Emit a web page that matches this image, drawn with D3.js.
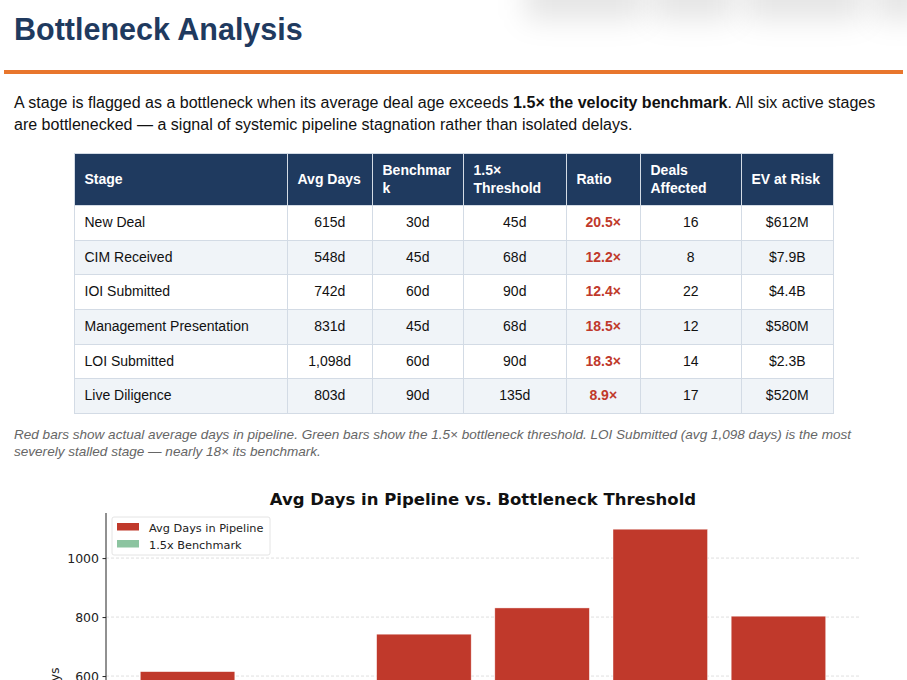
<!DOCTYPE html>
<html>
<head>
<meta charset="utf-8">
<script src="https://cdn.jsdelivr.net/npm/d3@7"></script>
<style>
  html, body { margin: 0; padding: 0; background: #fff; }
  body { width: 907px; height: 680px; overflow: hidden; position: relative;
         font-family: "Liberation Sans", Arial, Helvetica, sans-serif; color: #111; }
  .blob { position: absolute; top: -28px; height: 48px; background: rgba(0,0,0,0.10);
          filter: blur(14px); border-radius: 6px; }
  h1 { position: absolute; left: 14px; top: 11px; margin: 0; font-size: 30.5px; font-weight: bold;
       color: #1f3a5f; letter-spacing: 0; line-height: 36px; }
  .rule { position: absolute; left: 4px; width: 899px; top: 70px; height: 4px; background: #e8762d; }
  p.lead { position: absolute; left: 14px; top: 91px; margin: 0; width: 885px; font-size: 16.05px;
           line-height: 22px; color: #111; }
  table { position: absolute; left: 74px; top: 153px; border-collapse: collapse; table-layout: fixed;
          width: 759px; font-size: 14px; }
  th, td { border: 1px solid #d3dbe5; padding: 8px 10px 8px 9.5px; line-height: 17.6px; overflow-wrap: anywhere; }
  th { background: #1f3a5f; color: #fff; font-weight: bold; text-align: left; vertical-align: middle; }
  td { text-align: center; color: #111; }
  td.stage { text-align: left; }
  tr.alt td { background: #f0f4f8; }
  td.ratio { color: #c0392b; font-weight: bold; }
  p.caption { position: absolute; left: 14px; top: 426px; margin: 0; width: 880px; font-size: 13.55px;
              line-height: 17px; font-style: italic; color: #666; }
  svg { position: absolute; left: 0; top: 470px; }
</style>
</head>
<body>
<div class="blob" style="left:525px;width:118px"></div>
<div class="blob" style="left:652px;width:82px"></div>
<div class="blob" style="left:745px;width:118px"></div>
<div class="blob" style="left:874px;width:50px"></div>
<h1>Bottleneck Analysis</h1>
<div class="rule"></div>
<p class="lead">A stage is flagged as a bottleneck when its average deal age exceeds <b>1.5× the velocity benchmark</b>. All six active stages are bottlenecked — a signal of systemic pipeline stagnation rather than isolated delays.</p>
<div id="tbl"></div>
<p class="caption">Red bars show actual average days in pipeline. Green bars show the 1.5× bottleneck threshold. LOI Submitted (avg 1,098 days) is the most severely stalled stage — nearly 18× its benchmark.</p>
<div id="chart"></div>
<script>
// ---- data ----
const headers = ["Stage", "Avg Days", "Benchmark", "1.5× Threshold", "Ratio", "Deals Affected", "EV at Risk"];
const stages = ["New Deal", "CIM Received", "IOI Submitted", "Management Presentation", "LOI Submitted", "Live Diligence"];
const avgDays = [615, 548, 742, 831, 1098, 803];
const benchmark = [30, 45, 60, 45, 60, 90];
const threshold = [45, 68, 90, 68, 90, 135];
const ratio = ["20.5×", "12.2×", "12.4×", "18.5×", "18.3×", "8.9×"];
const dealsAffected = [16, 8, 22, 12, 14, 17];
const evAtRisk = ["$612M", "$7.9B", "$4.4B", "$580M", "$2.3B", "$520M"];
const yTicks = [0, 200, 400, 600, 800, 1000];
const chartTitle = "Avg Days in Pipeline vs. Bottleneck Threshold";
const legendLabels = ["Avg Days in Pipeline", "1.5x Benchmark"];
const yLabel = "Days";

// ---- table ----
const colWidths = [213, 85, 91, 103, 74, 101, 92];
const fmt = d3.format(",");
const table = d3.select("#tbl").append("table");
table.append("colgroup").selectAll("col").data(colWidths).join("col").style("width", d => d + "px");
table.append("thead").append("tr").selectAll("th").data(headers).join("th").text(d => d);
const rows = table.append("tbody").selectAll("tr").data(stages).join("tr")
  .attr("class", (d, i) => i % 2 ? "alt" : null);
rows.each(function(s, i) {
  const r = d3.select(this);
  r.append("td").attr("class", "stage").text(s);
  r.append("td").text(fmt(avgDays[i]) + "d");
  r.append("td").text(benchmark[i] + "d");
  r.append("td").text(threshold[i] + "d");
  r.append("td").attr("class", "ratio").text(ratio[i]);
  r.append("td").text(dealsAffected[i]);
  r.append("td").text(evAtRisk[i]);
});

// ---- chart ----
const offY = 470;
const W = 907, H = 420;
const svg = d3.select("#chart").append("svg").attr("width", W).attr("height", H)
  .style("font-family", "'DejaVu Sans', sans-serif");
const g = svg.append("g").attr("transform", `translate(0,${-offY})`);
const plotLeft = 106, plotRight = 860, plotTop = 513, plotBottom = 853;
const n = stages.length;
const x = d3.scaleLinear().domain([-0.69, n - 1 + 0.69]).range([plotLeft, plotRight]);
const yMax = d3.max(avgDays) * 1.05;
const y = d3.scaleLinear().domain([0, yMax]).range([plotBottom, plotTop]);

// grid
g.append("g").selectAll("line").data(yTicks).join("line")
  .attr("x1", plotLeft).attr("x2", plotRight).attr("y1", d => y(d)).attr("y2", d => y(d))
  .attr("stroke", "#b0b0b0").attr("stroke-opacity", 0.45).attr("stroke-width", 0.9)
  .attr("stroke-dasharray", "3,2");

// bars
const bw = 0.8;
g.append("g").selectAll("rect").data(avgDays).join("rect")
  .attr("x", (d, i) => x(i - bw / 2)).attr("width", (d, i) => x(i + bw / 2) - x(i - bw / 2))
  .attr("y", d => y(d)).attr("height", d => y(0) - y(d))
  .attr("fill", "#c0392b").attr("stroke", "#fff").attr("stroke-width", 0.6).attr("stroke-opacity", 0.7);
g.append("g").selectAll("rect").data(threshold).join("rect")
  .attr("x", (d, i) => x(i - bw / 2)).attr("width", (d, i) => x(i + bw / 2) - x(i - bw / 2))
  .attr("y", d => y(d)).attr("height", d => y(0) - y(d))
  .attr("fill", "#8cc4a0").attr("stroke", "#fff").attr("stroke-width", 0.6).attr("stroke-opacity", 0.7);

// y axis
const yAxis = d3.axisLeft(y).tickValues(yTicks).tickSize(3.5).tickPadding(3.5).tickFormat(d3.format("d"));
const ya = g.append("g").attr("transform", `translate(${plotLeft},0)`).call(yAxis);
ya.select(".domain").attr("stroke", "#222").attr("stroke-width", 1).attr("d", `M0,${plotBottom}V${plotTop}`);
ya.selectAll(".tick line").attr("stroke", "#222");
ya.selectAll(".tick text").attr("fill", "#222").style("font-size", "12.5px")
  .style("font-family", "'DejaVu Sans', sans-serif");

// y label
g.append("text").attr("transform", `translate(59,${(plotTop + plotBottom) / 2}) rotate(-90)`)
  .attr("text-anchor", "middle").attr("fill", "#222").style("font-size", "12.5px").text(yLabel);

// title
g.append("text").attr("x", (plotLeft + plotRight) / 2).attr("y", 505).attr("text-anchor", "middle")
  .attr("fill", "#111").style("font-size", "16.5px").style("font-weight", "bold").text(chartTitle);

// legend
const lg = g.append("g");
lg.append("rect").attr("x", 112).attr("y", 517).attr("width", 158).attr("height", 38)
  .attr("rx", 2).attr("fill", "#fff").attr("fill-opacity", 0.8).attr("stroke", "#ddd").attr("stroke-width", 0.8);
const legendColors = ["#c0392b", "#8cc4a0"];
legendLabels.forEach((t, i) => {
  lg.append("rect").attr("x", 117).attr("y", 523 + i * 17).attr("width", 22).attr("height", 7.5)
    .attr("fill", legendColors[i]);
  lg.append("text").attr("x", 149).attr("y", 531.5 + i * 17).attr("fill", "#222")
    .style("font-size", "11.3px").text(t);
});
</script>
</body>
</html>
